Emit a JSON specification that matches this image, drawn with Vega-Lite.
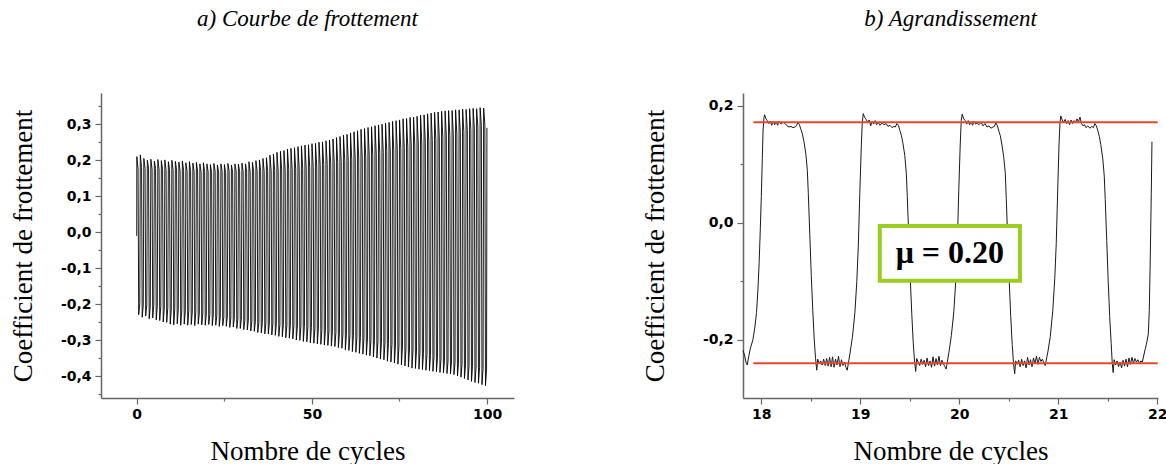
{
"$schema": "https://vega.github.io/schema/vega-lite/v6.json",
"padding": {"left": 9, "top": 8, "right": 0, "bottom": 0},
"spacing": 229,
"bounds": "flush",
"config": {
  "view": {"stroke": null},
  "axis": {"domainColor": "#666666", "domainWidth": 1.5, "tickColor": "#666666", "tickWidth": 1.2, "grid": false,
    "labelFont": "DejaVu Sans", "labelFontWeight": "bold", "labelFontSize": 14, "labelColor": "black", "labelPadding": 3,
    "labelFlush": false, "labelOverlap": false, "labelBound": false,
    "titleFont": "Liberation Serif", "titleFontWeight": "normal", "titleFontSize": 27, "titleColor": "black"},
  "title": {"font": "Liberation Serif", "fontStyle": "italic", "fontWeight": "normal", "fontSize": 23, "color": "black", "anchor": "middle", "baseline": "alphabetic", "offset": 62}
},
"datasets": {
"left": [
{"x":0,"y":-0.01},
{"x":0.03,"y":0.21},{"x":0.38,"y":0.176},{"x":0.56,"y":-0.229},{"x":0.87,"y":-0.198},
{"x":1.03,"y":0.215},{"x":1.38,"y":0.18},{"x":1.56,"y":-0.236},{"x":1.87,"y":-0.202},
{"x":2.03,"y":0.205},{"x":2.38,"y":0.177},{"x":2.56,"y":-0.232},{"x":2.87,"y":-0.201},
{"x":3.03,"y":0.2},{"x":3.38,"y":0.178},{"x":3.56,"y":-0.24},{"x":3.87,"y":-0.205},
{"x":4.03,"y":0.203},{"x":4.38,"y":0.175},{"x":4.56,"y":-0.238},{"x":4.87,"y":-0.203},
{"x":5.03,"y":0.198},{"x":5.38,"y":0.177},{"x":5.56,"y":-0.243},{"x":5.87,"y":-0.207},
{"x":6.03,"y":0.202},{"x":6.38,"y":0.174},{"x":6.56,"y":-0.245},{"x":6.87,"y":-0.206},
{"x":7.03,"y":0.199},{"x":7.38,"y":0.175},{"x":7.56,"y":-0.249},{"x":7.87,"y":-0.21},
{"x":8.03,"y":0.201},{"x":8.38,"y":0.172},{"x":8.56,"y":-0.25},{"x":8.87,"y":-0.21},
{"x":9.03,"y":0.196},{"x":9.38,"y":0.174},{"x":9.56,"y":-0.255},{"x":9.87,"y":-0.213},
{"x":10.03,"y":0.2},{"x":10.38,"y":0.172},{"x":10.56,"y":-0.257},{"x":10.87,"y":-0.212},
{"x":11.03,"y":0.197},{"x":11.38,"y":0.173},{"x":11.56,"y":-0.254},{"x":11.87,"y":-0.215},
{"x":12.03,"y":0.195},{"x":12.38,"y":0.17},{"x":12.56,"y":-0.258},{"x":12.87,"y":-0.215},
{"x":13.03,"y":0.198},{"x":13.38,"y":0.172},{"x":13.56,"y":-0.255},{"x":13.87,"y":-0.218},
{"x":14.03,"y":0.193},{"x":14.38,"y":0.169},{"x":14.56,"y":-0.258},{"x":14.87,"y":-0.218},
{"x":15.03,"y":0.196},{"x":15.38,"y":0.171},{"x":15.56,"y":-0.256},{"x":15.87,"y":-0.221},
{"x":16.03,"y":0.192},{"x":16.38,"y":0.168},{"x":16.56,"y":-0.259},{"x":16.87,"y":-0.221},
{"x":17.03,"y":0.194},{"x":17.38,"y":0.17},{"x":17.56,"y":-0.255},{"x":17.87,"y":-0.224},
{"x":18.03,"y":0.19},{"x":18.38,"y":0.167},{"x":18.56,"y":-0.257},{"x":18.87,"y":-0.224},
{"x":19.03,"y":0.193},{"x":19.38,"y":0.169},{"x":19.56,"y":-0.258},{"x":19.87,"y":-0.227},
{"x":20.03,"y":0.19},{"x":20.38,"y":0.168},{"x":20.56,"y":-0.256},{"x":20.87,"y":-0.228},
{"x":21.03,"y":0.188},{"x":21.38,"y":0.166},{"x":21.56,"y":-0.259},{"x":21.87,"y":-0.229},
{"x":22.03,"y":0.191},{"x":22.38,"y":0.169},{"x":22.56,"y":-0.258},{"x":22.87,"y":-0.231},
{"x":23.03,"y":0.187},{"x":23.38,"y":0.167},{"x":23.56,"y":-0.261},{"x":23.87,"y":-0.232},
{"x":24.03,"y":0.19},{"x":24.38,"y":0.169},{"x":24.56,"y":-0.259},{"x":24.87,"y":-0.235},
{"x":25.03,"y":0.188},{"x":25.38,"y":0.166},{"x":25.56,"y":-0.261},{"x":25.87,"y":-0.235},
{"x":26.03,"y":0.191},{"x":26.38,"y":0.169},{"x":26.56,"y":-0.264},{"x":26.87,"y":-0.238},
{"x":27.03,"y":0.187},{"x":27.38,"y":0.167},{"x":27.56,"y":-0.263},{"x":27.87,"y":-0.239},
{"x":28.03,"y":0.19},{"x":28.38,"y":0.17},{"x":28.56,"y":-0.267},{"x":28.87,"y":-0.241},
{"x":29.03,"y":0.189},{"x":29.38,"y":0.168},{"x":29.56,"y":-0.267},{"x":29.87,"y":-0.242},
{"x":30.03,"y":0.192},{"x":30.38,"y":0.168},{"x":30.56,"y":-0.27},{"x":30.87,"y":-0.244},
{"x":31.03,"y":0.19},{"x":31.38,"y":0.17},{"x":31.56,"y":-0.271},{"x":31.87,"y":-0.245},
{"x":32.03,"y":0.196},{"x":32.38,"y":0.167},{"x":32.56,"y":-0.274},{"x":32.87,"y":-0.247},
{"x":33.03,"y":0.194},{"x":33.38,"y":0.17},{"x":33.56,"y":-0.275},{"x":33.87,"y":-0.248},
{"x":34.03,"y":0.199},{"x":34.38,"y":0.168},{"x":34.56,"y":-0.278},{"x":34.87,"y":-0.25},
{"x":35.03,"y":0.201},{"x":35.38,"y":0.171},{"x":35.56,"y":-0.279},{"x":35.87,"y":-0.25},
{"x":36.03,"y":0.205},{"x":36.38,"y":0.169},{"x":36.56,"y":-0.282},{"x":36.87,"y":-0.252},
{"x":37.03,"y":0.207},{"x":37.38,"y":0.171},{"x":37.56,"y":-0.282},{"x":37.87,"y":-0.252},
{"x":38.03,"y":0.214},{"x":38.38,"y":0.17},{"x":38.56,"y":-0.285},{"x":38.87,"y":-0.254},
{"x":39.03,"y":0.217},{"x":39.38,"y":0.172},{"x":39.56,"y":-0.286},{"x":39.87,"y":-0.254},
{"x":40.03,"y":0.222},{"x":40.38,"y":0.17},{"x":40.56,"y":-0.289},{"x":40.87,"y":-0.256},
{"x":41.03,"y":0.225},{"x":41.38,"y":0.173},{"x":41.56,"y":-0.29},{"x":41.87,"y":-0.256},
{"x":42.03,"y":0.227},{"x":42.38,"y":0.172},{"x":42.56,"y":-0.293},{"x":42.87,"y":-0.258},
{"x":43.03,"y":0.231},{"x":43.38,"y":0.175},{"x":43.56,"y":-0.294},{"x":43.87,"y":-0.258},
{"x":44.03,"y":0.233},{"x":44.38,"y":0.174},{"x":44.56,"y":-0.296},{"x":44.87,"y":-0.259},
{"x":45.03,"y":0.235},{"x":45.38,"y":0.176},{"x":45.56,"y":-0.299},{"x":45.87,"y":-0.26},
{"x":46.03,"y":0.238},{"x":46.38,"y":0.175},{"x":46.56,"y":-0.3},{"x":46.87,"y":-0.261},
{"x":47.03,"y":0.24},{"x":47.38,"y":0.178},{"x":47.56,"y":-0.303},{"x":47.87,"y":-0.261},
{"x":48.03,"y":0.242},{"x":48.38,"y":0.178},{"x":48.56,"y":-0.304},{"x":48.87,"y":-0.262},
{"x":49.03,"y":0.243},{"x":49.38,"y":0.181},{"x":49.56,"y":-0.307},{"x":49.87,"y":-0.264},
{"x":50.03,"y":0.246},{"x":50.38,"y":0.182},{"x":50.56,"y":-0.308},{"x":50.87,"y":-0.266},
{"x":51.03,"y":0.247},{"x":51.38,"y":0.184},{"x":51.56,"y":-0.31},{"x":51.87,"y":-0.268},
{"x":52.03,"y":0.25},{"x":52.38,"y":0.185},{"x":52.56,"y":-0.311},{"x":52.87,"y":-0.27},
{"x":53.03,"y":0.251},{"x":53.38,"y":0.188},{"x":53.56,"y":-0.313},{"x":53.87,"y":-0.272},
{"x":54.03,"y":0.254},{"x":54.38,"y":0.188},{"x":54.56,"y":-0.314},{"x":54.87,"y":-0.274},
{"x":55.03,"y":0.256},{"x":55.38,"y":0.19},{"x":55.56,"y":-0.316},{"x":55.87,"y":-0.276},
{"x":56.03,"y":0.259},{"x":56.38,"y":0.193},{"x":56.56,"y":-0.317},{"x":56.87,"y":-0.278},
{"x":57.03,"y":0.263},{"x":57.38,"y":0.194},{"x":57.56,"y":-0.32},{"x":57.87,"y":-0.28},
{"x":58.03,"y":0.266},{"x":58.38,"y":0.197},{"x":58.56,"y":-0.322},{"x":58.87,"y":-0.282},
{"x":59.03,"y":0.27},{"x":59.38,"y":0.198},{"x":59.56,"y":-0.326},{"x":59.87,"y":-0.283},
{"x":60.03,"y":0.272},{"x":60.38,"y":0.2},{"x":60.56,"y":-0.328},{"x":60.87,"y":-0.285},
{"x":61.03,"y":0.276},{"x":61.38,"y":0.203},{"x":61.56,"y":-0.331},{"x":61.87,"y":-0.287},
{"x":62.03,"y":0.279},{"x":62.38,"y":0.203},{"x":62.56,"y":-0.333},{"x":62.87,"y":-0.289},
{"x":63.03,"y":0.282},{"x":63.38,"y":0.206},{"x":63.56,"y":-0.336},{"x":63.87,"y":-0.292},
{"x":64.03,"y":0.286},{"x":64.38,"y":0.206},{"x":64.56,"y":-0.338},{"x":64.87,"y":-0.294},
{"x":65.03,"y":0.288},{"x":65.38,"y":0.208},{"x":65.56,"y":-0.341},{"x":65.87,"y":-0.296},
{"x":66.03,"y":0.291},{"x":66.38,"y":0.212},{"x":66.56,"y":-0.343},{"x":66.87,"y":-0.298},
{"x":67.03,"y":0.293},{"x":67.38,"y":0.214},{"x":67.56,"y":-0.346},{"x":67.87,"y":-0.3},
{"x":68.03,"y":0.296},{"x":68.38,"y":0.217},{"x":68.56,"y":-0.349},{"x":68.87,"y":-0.302},
{"x":69.03,"y":0.298},{"x":69.38,"y":0.219},{"x":69.56,"y":-0.352},{"x":69.87,"y":-0.305},
{"x":70.03,"y":0.3},{"x":70.38,"y":0.222},{"x":70.56,"y":-0.354},{"x":70.87,"y":-0.307},
{"x":71.03,"y":0.303},{"x":71.38,"y":0.224},{"x":71.56,"y":-0.358},{"x":71.87,"y":-0.309},
{"x":72.03,"y":0.305},{"x":72.38,"y":0.226},{"x":72.56,"y":-0.36},{"x":72.87,"y":-0.311},
{"x":73.03,"y":0.308},{"x":73.38,"y":0.228},{"x":73.56,"y":-0.363},{"x":73.87,"y":-0.313},
{"x":74.03,"y":0.31},{"x":74.38,"y":0.23},{"x":74.56,"y":-0.366},{"x":74.87,"y":-0.316},
{"x":75.03,"y":0.312},{"x":75.38,"y":0.232},{"x":75.56,"y":-0.368},{"x":75.87,"y":-0.318},
{"x":76.03,"y":0.315},{"x":76.38,"y":0.235},{"x":76.56,"y":-0.371},{"x":76.87,"y":-0.321},
{"x":77.03,"y":0.316},{"x":77.38,"y":0.237},{"x":77.56,"y":-0.374},{"x":77.87,"y":-0.324},
{"x":78.03,"y":0.319},{"x":78.38,"y":0.24},{"x":78.56,"y":-0.377},{"x":78.87,"y":-0.327},
{"x":79.03,"y":0.32},{"x":79.38,"y":0.242},{"x":79.56,"y":-0.378},{"x":79.87,"y":-0.33},
{"x":80.03,"y":0.322},{"x":80.38,"y":0.245},{"x":80.56,"y":-0.38},{"x":80.87,"y":-0.333},
{"x":81.03,"y":0.325},{"x":81.38,"y":0.248},{"x":81.56,"y":-0.381},{"x":81.87,"y":-0.336},
{"x":82.03,"y":0.326},{"x":82.38,"y":0.25},{"x":82.56,"y":-0.383},{"x":82.87,"y":-0.339},
{"x":83.03,"y":0.329},{"x":83.38,"y":0.253},{"x":83.56,"y":-0.384},{"x":83.87,"y":-0.342},
{"x":84.03,"y":0.331},{"x":84.38,"y":0.255},{"x":84.56,"y":-0.386},{"x":84.87,"y":-0.345},
{"x":85.03,"y":0.333},{"x":85.38,"y":0.258},{"x":85.56,"y":-0.387},{"x":85.87,"y":-0.348},
{"x":86.03,"y":0.334},{"x":86.38,"y":0.262},{"x":86.56,"y":-0.389},{"x":86.87,"y":-0.351},
{"x":87.03,"y":0.336},{"x":87.38,"y":0.265},{"x":87.56,"y":-0.39},{"x":87.87,"y":-0.355},
{"x":88.03,"y":0.337},{"x":88.38,"y":0.268},{"x":88.56,"y":-0.392},{"x":88.87,"y":-0.358},
{"x":89.03,"y":0.338},{"x":89.38,"y":0.269},{"x":89.56,"y":-0.393},{"x":89.87,"y":-0.36},
{"x":90.03,"y":0.338},{"x":90.38,"y":0.272},{"x":90.56,"y":-0.395},{"x":90.87,"y":-0.362},
{"x":91.03,"y":0.34},{"x":91.38,"y":0.273},{"x":91.56,"y":-0.399},{"x":91.87,"y":-0.364},
{"x":92.03,"y":0.34},{"x":92.38,"y":0.275},{"x":92.56,"y":-0.402},{"x":92.87,"y":-0.366},
{"x":93.03,"y":0.342},{"x":93.38,"y":0.279},{"x":93.56,"y":-0.406},{"x":93.87,"y":-0.368},
{"x":94.03,"y":0.341},{"x":94.38,"y":0.282},{"x":94.56,"y":-0.41},{"x":94.87,"y":-0.37},
{"x":95.03,"y":0.343},{"x":95.38,"y":0.285},{"x":95.56,"y":-0.414},{"x":95.87,"y":-0.372},
{"x":96.03,"y":0.344},{"x":96.38,"y":0.289},{"x":96.56,"y":-0.417},{"x":96.87,"y":-0.374},
{"x":97.03,"y":0.343},{"x":97.38,"y":0.292},{"x":97.56,"y":-0.419},{"x":97.87,"y":-0.376},
{"x":98.03,"y":0.346},{"x":98.38,"y":0.296},{"x":98.56,"y":-0.423},{"x":98.87,"y":-0.378},
{"x":99.03,"y":0.345},{"x":99.38,"y":0.3},{"x":99.56,"y":-0.426},{"x":99.87,"y":-0.38},
{"x":99.97,"y":0.29}
],
"right": [
{"x":17.815,"y":-0.218},{"x":17.83,"y":-0.226},{"x":17.845,"y":-0.238},{"x":17.858,"y":-0.243},{"x":17.872,"y":-0.229},{"x":17.89,"y":-0.214},{"x":17.915,"y":-0.2},{"x":17.935,"y":-0.178},{"x":17.952,"y":-0.153},{"x":17.967,"y":-0.11},{"x":17.978,"y":-0.068},{"x":17.99,"y":-0.01},{"x":18.0,"y":0.045},{"x":18.01,"y":0.11},{"x":18.018,"y":0.159},{"x":18.027,"y":0.18},{"x":18.033,"y":0.185},
{"x":18.045,"y":0.179},{"x":18.06,"y":0.175},{"x":18.075,"y":0.17},{"x":18.09,"y":0.174},{"x":18.105,"y":0.167},{"x":18.12,"y":0.174},{"x":18.135,"y":0.168},{"x":18.15,"y":0.173},{"x":18.165,"y":0.167},{"x":18.18,"y":0.174},{"x":18.2,"y":0.169},{"x":18.22,"y":0.172},{"x":18.24,"y":0.17},{"x":18.26,"y":0.166},{"x":18.28,"y":0.164},{"x":18.3,"y":0.165},{"x":18.32,"y":0.163},{"x":18.34,"y":0.164},{"x":18.355,"y":0.166},{"x":18.37,"y":0.172},{"x":18.385,"y":0.168},
{"x":18.4,"y":0.16},{"x":18.415,"y":0.152},{"x":18.43,"y":0.14},{"x":18.45,"y":0.118},{"x":18.465,"y":0.09},{"x":18.475,"y":0.05},{"x":18.49,"y":-0.02},{"x":18.505,"y":-0.09},{"x":18.52,"y":-0.15},{"x":18.535,"y":-0.2},{"x":18.548,"y":-0.232},{"x":18.56,"y":-0.252},{"x":18.57,"y":-0.233},
{"x":18.585,"y":-0.241},{"x":18.6,"y":-0.236},{"x":18.615,"y":-0.243},{"x":18.63,"y":-0.233},{"x":18.645,"y":-0.244},{"x":18.66,"y":-0.232},{"x":18.675,"y":-0.245},{"x":18.69,"y":-0.23},{"x":18.705,"y":-0.246},{"x":18.72,"y":-0.229},{"x":18.735,"y":-0.247},{"x":18.75,"y":-0.233},{"x":18.765,"y":-0.243},{"x":18.78,"y":-0.228},{"x":18.795,"y":-0.246},{"x":18.81,"y":-0.234},{"x":18.825,"y":-0.244},{"x":18.84,"y":-0.238},{"x":18.855,"y":-0.247},{"x":18.868,"y":-0.252},
{"x":18.895,"y":-0.224},{"x":18.92,"y":-0.196},{"x":18.945,"y":-0.155},{"x":18.965,"y":-0.1},{"x":18.98,"y":-0.04},{"x":18.995,"y":0.05},{"x":19.01,"y":0.13},{"x":19.02,"y":0.172},{"x":19.03,"y":0.187},
{"x":19.045,"y":0.18},{"x":19.06,"y":0.177},{"x":19.075,"y":0.172},{"x":19.09,"y":0.176},{"x":19.105,"y":0.166},{"x":19.12,"y":0.174},{"x":19.135,"y":0.169},{"x":19.15,"y":0.175},{"x":19.165,"y":0.168},{"x":19.18,"y":0.172},{"x":19.2,"y":0.167},{"x":19.22,"y":0.171},{"x":19.24,"y":0.168},{"x":19.26,"y":0.17},{"x":19.28,"y":0.165},{"x":19.3,"y":0.167},{"x":19.32,"y":0.163},{"x":19.34,"y":0.165},{"x":19.355,"y":0.164},{"x":19.37,"y":0.17},{"x":19.385,"y":0.167},
{"x":19.4,"y":0.158},{"x":19.415,"y":0.15},{"x":19.43,"y":0.137},{"x":19.45,"y":0.115},{"x":19.465,"y":0.085},{"x":19.475,"y":0.045},{"x":19.49,"y":-0.025},{"x":19.505,"y":-0.095},{"x":19.52,"y":-0.155},{"x":19.535,"y":-0.205},{"x":19.548,"y":-0.236},{"x":19.56,"y":-0.254},{"x":19.57,"y":-0.232},
{"x":19.585,"y":-0.238},{"x":19.6,"y":-0.244},{"x":19.615,"y":-0.233},{"x":19.63,"y":-0.242},{"x":19.645,"y":-0.235},{"x":19.66,"y":-0.246},{"x":19.675,"y":-0.231},{"x":19.69,"y":-0.244},{"x":19.705,"y":-0.236},{"x":19.72,"y":-0.247},{"x":19.735,"y":-0.229},{"x":19.75,"y":-0.245},{"x":19.765,"y":-0.232},{"x":19.78,"y":-0.243},{"x":19.795,"y":-0.228},{"x":19.81,"y":-0.244},{"x":19.825,"y":-0.235},{"x":19.84,"y":-0.241},{"x":19.855,"y":-0.246},{"x":19.868,"y":-0.25},
{"x":19.895,"y":-0.222},{"x":19.92,"y":-0.193},{"x":19.945,"y":-0.152},{"x":19.965,"y":-0.098},{"x":19.98,"y":-0.038},{"x":19.995,"y":0.055},{"x":20.01,"y":0.135},{"x":20.02,"y":0.175},{"x":20.03,"y":0.186},
{"x":20.045,"y":0.178},{"x":20.06,"y":0.175},{"x":20.075,"y":0.169},{"x":20.09,"y":0.175},{"x":20.105,"y":0.168},{"x":20.12,"y":0.173},{"x":20.135,"y":0.167},{"x":20.15,"y":0.174},{"x":20.165,"y":0.169},{"x":20.18,"y":0.171},{"x":20.2,"y":0.168},{"x":20.22,"y":0.172},{"x":20.24,"y":0.166},{"x":20.26,"y":0.17},{"x":20.28,"y":0.164},{"x":20.3,"y":0.166},{"x":20.32,"y":0.162},{"x":20.34,"y":0.164},{"x":20.355,"y":0.165},{"x":20.37,"y":0.171},{"x":20.385,"y":0.166},
{"x":20.4,"y":0.157},{"x":20.415,"y":0.149},{"x":20.43,"y":0.135},{"x":20.45,"y":0.112},{"x":20.465,"y":0.085},{"x":20.475,"y":0.042},{"x":20.49,"y":-0.03},{"x":20.505,"y":-0.1},{"x":20.52,"y":-0.16},{"x":20.535,"y":-0.208},{"x":20.548,"y":-0.24},{"x":20.56,"y":-0.258},{"x":20.57,"y":-0.236},
{"x":20.585,"y":-0.242},{"x":20.6,"y":-0.235},{"x":20.615,"y":-0.246},{"x":20.63,"y":-0.233},{"x":20.645,"y":-0.244},{"x":20.66,"y":-0.236},{"x":20.675,"y":-0.248},{"x":20.69,"y":-0.23},{"x":20.705,"y":-0.243},{"x":20.72,"y":-0.234},{"x":20.735,"y":-0.246},{"x":20.75,"y":-0.231},{"x":20.765,"y":-0.241},{"x":20.78,"y":-0.228},{"x":20.795,"y":-0.242},{"x":20.81,"y":-0.23},{"x":20.825,"y":-0.237},{"x":20.84,"y":-0.233},{"x":20.855,"y":-0.24},{"x":20.868,"y":-0.244},
{"x":20.895,"y":-0.221},{"x":20.92,"y":-0.194},{"x":20.945,"y":-0.15},{"x":20.965,"y":-0.095},{"x":20.98,"y":-0.035},{"x":20.995,"y":0.058},{"x":21.008,"y":0.135},{"x":21.018,"y":0.172},{"x":21.026,"y":0.183},
{"x":21.04,"y":0.176},{"x":21.055,"y":0.172},{"x":21.07,"y":0.177},{"x":21.085,"y":0.17},{"x":21.1,"y":0.175},{"x":21.115,"y":0.168},{"x":21.13,"y":0.176},{"x":21.145,"y":0.17},{"x":21.16,"y":0.175},{"x":21.175,"y":0.172},{"x":21.19,"y":0.178},{"x":21.205,"y":0.173},{"x":21.22,"y":0.181},{"x":21.235,"y":0.17},{"x":21.25,"y":0.166},{"x":21.265,"y":0.168},{"x":21.28,"y":0.163},{"x":21.3,"y":0.166},{"x":21.32,"y":0.162},{"x":21.34,"y":0.165},{"x":21.355,"y":0.163},{"x":21.37,"y":0.17},{"x":21.385,"y":0.166},
{"x":21.4,"y":0.158},{"x":21.415,"y":0.148},{"x":21.43,"y":0.134},{"x":21.45,"y":0.11},{"x":21.465,"y":0.08},{"x":21.475,"y":0.04},{"x":21.49,"y":-0.03},{"x":21.505,"y":-0.1},{"x":21.52,"y":-0.16},{"x":21.535,"y":-0.206},{"x":21.545,"y":-0.238},{"x":21.555,"y":-0.256},{"x":21.565,"y":-0.234},
{"x":21.58,"y":-0.243},{"x":21.595,"y":-0.236},{"x":21.61,"y":-0.246},{"x":21.625,"y":-0.238},{"x":21.64,"y":-0.248},{"x":21.655,"y":-0.235},{"x":21.67,"y":-0.245},{"x":21.685,"y":-0.233},{"x":21.7,"y":-0.246},{"x":21.715,"y":-0.231},{"x":21.73,"y":-0.242},{"x":21.745,"y":-0.23},{"x":21.76,"y":-0.24},{"x":21.775,"y":-0.232},{"x":21.79,"y":-0.238},{"x":21.805,"y":-0.234},{"x":21.82,"y":-0.24},{"x":21.835,"y":-0.236},{"x":21.85,"y":-0.238},
{"x":21.865,"y":-0.226},{"x":21.88,"y":-0.215},{"x":21.895,"y":-0.204},{"x":21.91,"y":-0.19},{"x":21.92,"y":-0.15},{"x":21.93,"y":-0.06},{"x":21.94,"y":0.05},{"x":21.947,"y":0.139}
],
"ref": [
{"x1":17.92,"x2":22.005,"y":0.172},
{"x1":17.92,"x2":22.005,"y":-0.24}
],
"box": [
{"x1":19.197,"x2":20.613,"y1":-0.0054,"y2":-0.0988,"tx":19.905,"ty":-0.052,"label":"μ = 0.20"}
]
},
"hconcat": [
{
  "width": 413, "height": 305,
  "title": {"text": "a) Courbe de frottement"},
  "data": {"name": "left"},
  "mark": {"type": "line", "color": "black", "strokeWidth": 0.9},
  "encoding": {
    "x": {"field": "x", "type": "quantitative", "scale": {"domain": [-10.2, 107.7], "nice": false, "zero": false},
      "axis": {"title": "Nombre de cycles", "values": [0, 25, 50, 75, 100], "titlePadding": 17,
        "labelExpr": "datum.value % 50 != 0 ? '' : format(datum.value, 'd')",
        "tickSize": {"condition": {"test": "datum.value % 50 != 0", "value": 3}, "value": 6}}},
    "y": {"field": "y", "type": "quantitative", "scale": {"domain": [-0.46, 0.3867], "nice": false, "zero": false},
      "axis": {"title": "Coefficient de frottement", "values": [-0.45, -0.4, -0.35, -0.3, -0.25, -0.2, -0.15, -0.1, -0.05, 0, 0.05, 0.1, 0.15, 0.2, 0.25, 0.3, 0.35], "titlePadding": 23, "labelPadding": 4,
        "labelExpr": "abs(datum.value*10 - round(datum.value*10)) > 0.01 ? '' : (datum.value < -0.001 ? '-' : '') + replace(format(abs(datum.value), '.1f'), '.', ',')",
        "tickSize": {"condition": {"test": "abs(datum.value*10 - round(datum.value*10)) > 0.01", "value": 3}, "value": 6}}}
  }
},
{
  "width": 415, "height": 305,
  "title": {"text": "b) Agrandissement"},
  "layer": [
    {
      "data": {"name": "right"},
      "mark": {"type": "line", "color": "#1a1a1a", "strokeWidth": 1},
      "encoding": {
        "x": {"field": "x", "type": "quantitative", "scale": {"domain": [17.815, 22.008], "nice": false, "zero": false},
          "axis": {"title": "Nombre de cycles", "values": [18, 18.5, 19, 19.5, 20, 20.5, 21, 21.5, 22], "titlePadding": 17,
            "labelExpr": "datum.value % 1 != 0 ? '' : format(datum.value, 'd')",
            "tickSize": {"condition": {"test": "datum.value % 1 != 0", "value": 3}, "value": 6}}},
        "y": {"field": "y", "type": "quantitative", "scale": {"domain": [-0.2995, 0.2222], "nice": false, "zero": false},
          "axis": {"title": "Coefficient de frottement", "values": [-0.2, -0.1, 0, 0.1, 0.2], "titlePadding": 33, "labelPadding": 4,
            "labelExpr": "abs(datum.value*5 - round(datum.value*5)) > 0.01 ? '' : (datum.value < -0.001 ? '-' : '') + replace(format(abs(datum.value), '.1f'), '.', ',')",
            "tickSize": {"condition": {"test": "abs(datum.value*5 - round(datum.value*5)) > 0.01", "value": 3}, "value": 6}}}
      }
    },
    {
      "data": {"name": "ref"},
      "mark": {"type": "rule", "color": "#e8472e", "strokeWidth": 2},
      "encoding": {
        "x": {"field": "x1", "type": "quantitative", "scale": {"domain": [17.815, 22.008], "nice": false, "zero": false}},
        "x2": {"field": "x2"},
        "y": {"field": "y", "type": "quantitative", "scale": {"domain": [-0.2995, 0.2222], "nice": false, "zero": false}}
      }
    },
    {
      "data": {"name": "box"},
      "mark": {"type": "rect", "fill": "white", "stroke": "#9acd22", "strokeWidth": 4},
      "encoding": {
        "x": {"field": "x1", "type": "quantitative"},
        "x2": {"field": "x2"},
        "y": {"field": "y1", "type": "quantitative"},
        "y2": {"field": "y2"}
      }
    },
    {
      "data": {"name": "box"},
      "mark": {"type": "text", "font": "Liberation Serif", "fontWeight": "bold", "fontSize": 32, "color": "black"},
      "encoding": {
        "x": {"field": "tx", "type": "quantitative"},
        "y": {"field": "ty", "type": "quantitative"},
        "text": {"field": "label"}
      }
    }
  ]
}
]
}
